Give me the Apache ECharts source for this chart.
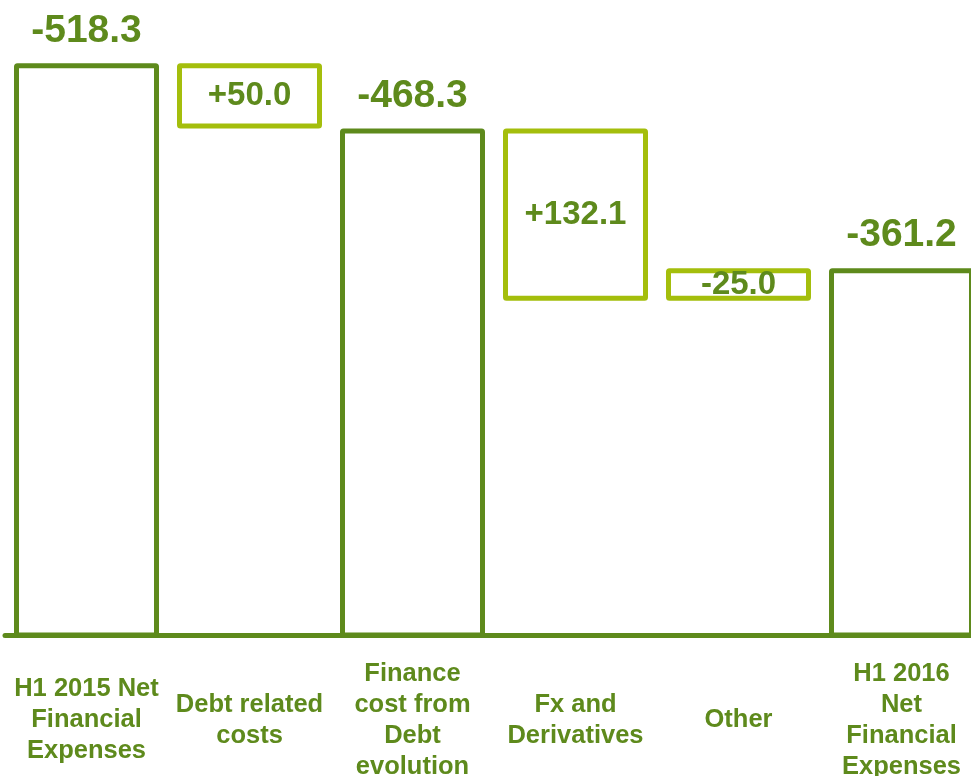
<!DOCTYPE html>
<html>
<head>
<meta charset="utf-8">
<script src="https://cdn.jsdelivr.net/npm/echarts@6/dist/echarts.min.js"></script>
<style>
  html, body { margin: 0; padding: 0; background: #ffffff; }
  #chart { width: 971px; height: 776px; }
</style>
</head>
<body>
<div id="chart"></div>
<script>
// ---- Data ----
const categories = [
  "H1 2015 Net\nFinancial\nExpenses",
  "Debt related\ncosts",
  "Finance\ncost from\nDebt\nevolution",
  "Fx and\nDerivatives",
  "Other",
  "H1 2016\nNet\nFinancial\nExpenses"
];
// signed values as labelled (totals are net expenses, others are changes)
const values = [-518.3, 50.0, -468.3, 132.1, -25.0, -361.2];
const isTotal = [true, false, true, false, false, true];

// ---- Styles ----
const DARK = "#5E8A1C";
const LIGHT = "#A4BE0C";
const FONT = "'Liberation Sans', Arial, sans-serif";

// ---- Waterfall computation (magnitudes) ----
const baseData = [];
const boxData = [];
let running = 0;
values.forEach((v, i) => {
  if (isTotal[i]) {
    running = v;
    baseData.push(0);
    boxData.push({ value: Math.abs(v), total: true, raw: v });
  } else {
    const prev = Math.abs(running);
    running = running + v;
    const next = Math.abs(running);
    baseData.push(Math.min(prev, next));
    boxData.push({ value: Math.abs(prev - next), total: false, raw: v });
  }
});

function fmt(v) {
  return (v < 0 ? "-" : "+") + Math.abs(v).toFixed(1);
}

const seriesData = boxData.map(d => ({
  value: d.value,
  itemStyle: {
    color: "#ffffff",
    borderColor: d.total ? DARK : LIGHT,
    borderWidth: 5,
    borderRadius: 1
  },
  label: d.total ? {
    show: true,
    position: "top",
    distance: 13,
    fontSize: 39,
    lineHeight: 39,
    fontWeight: "bold",
    fontFamily: FONT,
    color: DARK,
    formatter: fmt(d.raw)
  } : {
    show: true,
    position: "inside",
    fontSize: 33,
    fontWeight: "bold",
    fontFamily: FONT,
    color: DARK,
    formatter: fmt(d.raw)
  }
}));

const chart = echarts.init(document.getElementById("chart"), null, { renderer: "canvas" });
chart.setOption({
  backgroundColor: "#ffffff",
  animation: false,
  grid: {
    left: 5, width: 978, top: 35, bottom: 141,
    containLabel: false,
    outerBoundsMode: "none"
  },
  xAxis: {
    type: "category",
    data: categories,
    axisTick: { show: false },
    axisLine: { show: true, lineStyle: { color: DARK, width: 5 } },
    axisLabel: {
      interval: 0,
      margin: 85,
      verticalAlign: "middle",
      align: "center",
      fontSize: 25.5,
      lineHeight: 31,
      fontWeight: "bold",
      fontFamily: FONT,
      color: DARK
    }
  },
  yAxis: {
    type: "value",
    min: 80,
    max: 540,
    show: false,
    splitLine: { show: false }
  },
  series: [
    {
      type: "bar",
      stack: "wf",
      barWidth: 145,
      silent: true,
      itemStyle: { color: "transparent", borderWidth: 0 },
      data: baseData,
      z: 1
    },
    {
      type: "bar",
      stack: "wf",
      barWidth: 145,
      clip: true,
      data: seriesData,
      z: 2
    }
  ]
});
</script>
</body>
</html>
